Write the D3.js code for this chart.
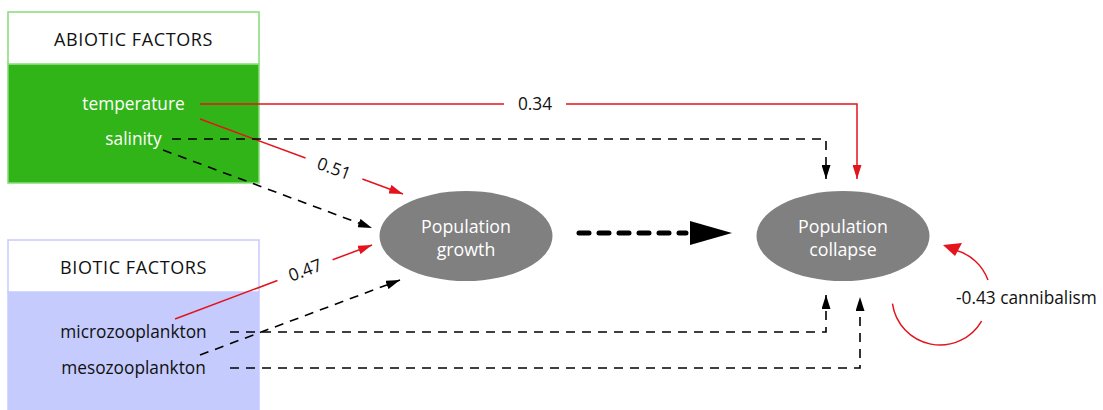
<!DOCTYPE html>
<html><head><meta charset="utf-8">
<script src="https://cdn.jsdelivr.net/npm/d3@7"></script>
<style>body{margin:0;background:#fff}svg{display:block}text{font-family:"Open Sans","Noto Sans",sans-serif}</style>
</head><body><svg id="c" width="1103" height="410"></svg>
<script>
// ---- data ----
const groups = ["ABIOTIC FACTORS", "BIOTIC FACTORS"];
const abiotic = ["temperature", "salinity"];
const biotic = ["microzooplankton", "mesozooplankton"];
const outcomes = ["Population growth", "Population collapse"];
// effects on growth (null = non-significant, dashed)
const growthCoef = [0.51, null, 0.47, null];       // temperature, salinity, micro, meso
const collapseCoef = [0.34, null, null, null];
const cannibalism = -0.43;

const fmt = v => d3.format(".2f")(v).replace("\u2212", "-");
const svg = d3.select("#c");
const red = "#e3141b";
const defs = svg.append("defs");
function marker(id, color, w, h) {
  defs.append("marker").attr("id", id).attr("viewBox", `0 0 ${w} ${h}`)
    .attr("refX", w).attr("refY", h / 2).attr("markerWidth", w).attr("markerHeight", h)
    .attr("markerUnits", "userSpaceOnUse").attr("orient", "auto")
    .append("path").attr("d", `M0,0L${w},${h / 2}L0,${h}Z`).attr("fill", color);
}
marker("ar", red, 14, 9);
marker("ak", "#000", 14, 9);

// layout scales
const x = d3.scaleLinear().domain([0, 1]).range([8, 259]);
const rowY = d3.scaleOrdinal().domain([...abiotic, ...biotic]).range([104, 139, 332, 368]);
const boxY = d3.scaleOrdinal().domain(groups).range([12, 240]);
const nodeX = d3.scaleOrdinal().domain(outcomes).range([466, 843]);
const nodeY = 236;
const FS = 17.3;

// boxes
const boxStyle = [{fill: "#31b418", stroke: "#86dc77", h: 171}, {fill: "#c5cbfc", stroke: "#c5cbfc", h: 175}];
groups.forEach((g, i) => {
  const y0 = boxY(g), s = boxStyle[i];
  svg.append("rect").attr("x", x(0)).attr("y", y0 + 52).attr("width", x(1) - x(0)).attr("height", s.h - 52)
    .attr("fill", s.fill).attr("stroke", s.stroke).attr("stroke-width", 1.5);
  svg.append("rect").attr("x", x(0)).attr("y", y0).attr("width", x(1) - x(0)).attr("height", 52)
    .attr("fill", "#fff").attr("stroke", s.stroke).attr("stroke-width", 1.5);
  svg.append("text").attr("x", x(0.5)).attr("y", y0 + 34).attr("text-anchor", "middle")
    .attr("font-size", 18).attr("letter-spacing", 0.6).attr("fill", "#111").text(g);
});
abiotic.forEach((f) => svg.append("text").attr("x", x(0.5)).attr("y", rowY(f) + 6).attr("text-anchor", "middle")
  .attr("font-size", FS).attr("fill", "#fff").text(f));
biotic.forEach((f) => svg.append("text").attr("x", x(0.5)).attr("y", rowY(f) + 6).attr("text-anchor", "middle")
  .attr("font-size", FS).attr("fill", "#111").text(f));

// ellipses
outcomes.forEach(o => {
  svg.append("ellipse").attr("cx", nodeX(o)).attr("cy", nodeY).attr("rx", 86.5).attr("ry", 45).attr("fill", "#808080");
  const w = o.split(" ");
  svg.append("text").attr("x", nodeX(o)).attr("y", nodeY - 3).attr("text-anchor", "middle").attr("font-size", 17.8).attr("fill", "#fff").text(w[0]);
  svg.append("text").attr("x", nodeX(o)).attr("y", nodeY + 20).attr("text-anchor", "middle").attr("font-size", 17.8).attr("fill", "#fff").text(w[1]);
});

const line = d3.line();
function edge(pts, coef, opts = {}) {
  const sig = coef !== null;
  return svg.append("path").attr("d", line(pts)).attr("fill", "none")
    .attr("stroke", sig ? red : "#000").attr("stroke-width", sig ? 1.5 : 1.6)
    .attr("stroke-dasharray", sig ? null : "9,7")
    .attr("marker-end", opts.noHead ? null : (sig ? "url(#ar)" : "url(#ak)"));
}

// edges to growth (diagonal) with labels on the line
const factors = [...abiotic, ...biotic];
const gStart = [[200, 119], [163, 150], [175, 319], [200, 355]];
const gEnd = [[403, 194], [372, 228], [372, 245], [400, 280]];
factors.forEach((f, i) => {
  const c = growthCoef[i];
  const [x0, y0] = gStart[i], [x1, y1] = gEnd[i];
  if (c === null) { edge([[x0, y0], [x1, y1]], c); return; }
  const t1 = 0.52, t2 = 0.80;
  const lerp = t => [x0 + (x1 - x0) * t, y0 + (y1 - y0) * t];
  edge([[x0, y0], lerp(t1)], c, {noHead: true});
  edge([lerp(t2), [x1, y1]], c);
  const m = lerp((t1 + t2) / 2);
  const ang = Math.atan2(y1 - y0, x1 - x0) * 180 / Math.PI;
  svg.append("text").attr("transform", `translate(${m[0]},${m[1]}) rotate(${ang})`)
    .attr("text-anchor", "middle").attr("dy", 6).attr("font-size", FS).attr("fill", "#111")
    .text(fmt(c));
});

// edges to collapse (elbow)
const cStart = [200, 172, 230, 230];
const cTurnX = [857, 826, 826, 860];
const cTipY = [179, 179, 295, 297];
factors.forEach((f, i) => {
  const c = collapseCoef[i], y0 = rowY(f);
  if (c === null) { edge([[cStart[i], y0], [cTurnX[i], y0], [cTurnX[i], cTipY[i]]], c); return; }
  edge([[cStart[i], y0], [504, y0]], c, {noHead: true});
  edge([[566, y0], [cTurnX[i], y0], [cTurnX[i], cTipY[i]]], c);
  svg.append("text").attr("x", 535).attr("y", y0 + 6).attr("text-anchor", "middle").attr("font-size", FS).attr("fill", "#111").text(fmt(c));
});

// growth -> collapse
svg.append("path").attr("d", line([[579, 233], [686, 233]])).attr("stroke", "#000").attr("stroke-width", 5)
  .attr("stroke-linecap", "round").attr("stroke-dasharray", "10,10").attr("fill", "none");
svg.append("path").attr("d", "M690,221L732,233L690,245Z").attr("fill", "#000");

// cannibalism loop
const cx = 940, cy = 297, r = 48;
const arc = (a0, a1) => d3.arc()({innerRadius: r, outerRadius: r, startAngle: a0, endAngle: a1});
const deg = d => d * Math.PI / 180;
svg.append("path").attr("transform", `translate(${cx},${cy})`).attr("d", arc(deg(262), deg(120)))
  .attr("fill", "none").attr("stroke", red).attr("stroke-width", 1.5);
svg.append("path").attr("d", "M988,280 A48,48 0 0 0 955,250").attr("fill", "none").attr("stroke", red).attr("stroke-width", 1.5);
svg.append("path").attr("d", "M943,245L962,243L955,256Z").attr("fill", red);
svg.append("text").attr("x", 956).attr("y", 304).attr("font-size", FS).attr("fill", "#111").text(fmt(cannibalism) + " cannibalism");
</script></body></html>
